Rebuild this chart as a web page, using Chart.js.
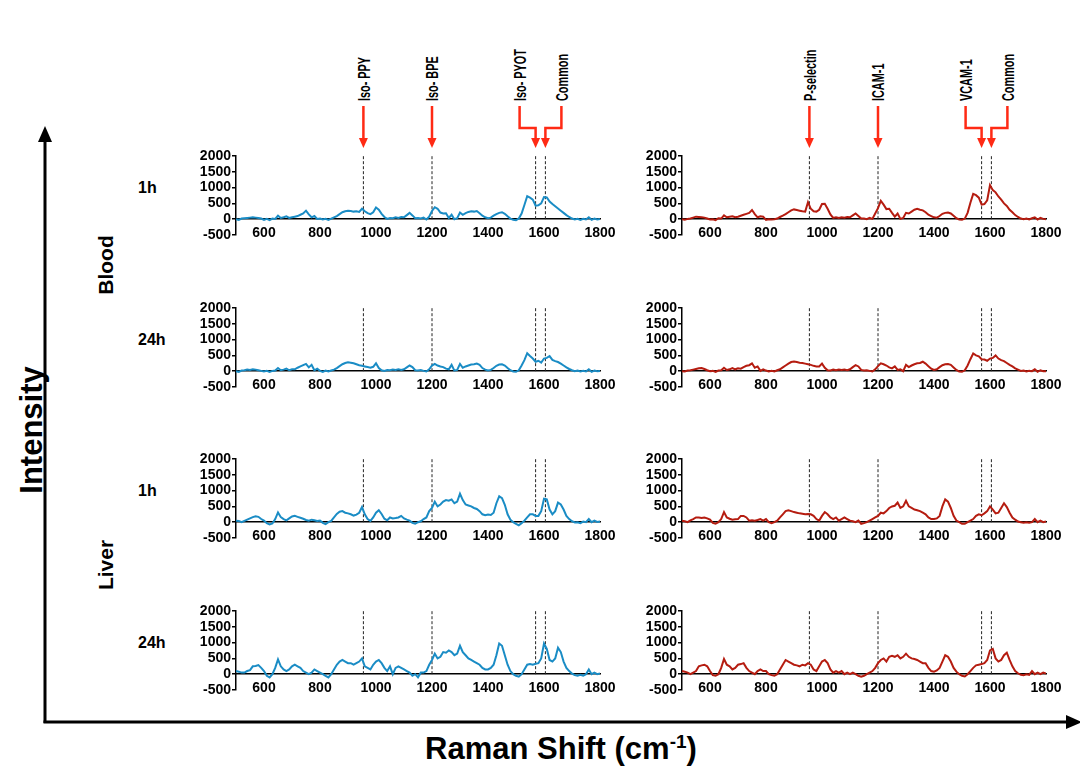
<!DOCTYPE html>
<html>
<head>
<meta charset="utf-8">
<script src="https://cdn.jsdelivr.net/npm/chart.js@4.4.1/dist/chart.umd.min.js"></script>
<style>
  body { margin: 0; background: #fff; width: 1080px; height: 769px; overflow: hidden; position: relative;
         font-family: Arial, "Liberation Sans", Helvetica, sans-serif; }
  canvas { position: absolute; }
  #overlay { position: absolute; left: 0; top: 0; }
  #xTitle { position: absolute; left: 161px; top: 733px; width: 800px; text-align: center;
            font-size: 31px; line-height: 31px; font-weight: bold; color: #000; }
  #xTitle sup { font-size: 19px; vertical-align: 11px; line-height: 0; }
</style>
</head>
<body>
<svg id="overlay" width="1080" height="769" xmlns="http://www.w3.org/2000/svg"></svg>
<div id="xTitle">Raman Shift (cm<sup>-1</sup>)</div>
<script>
/**raman shift of every sample (cm-1) */
const ramanShift = [
    500, 510, 520, 530, 540, 550, 560, 570, 580, 590,
    600, 610, 620, 630, 640, 650, 660, 670, 680, 690,
    700, 710, 720, 730, 740, 750, 760, 770, 780, 790,
    800, 810, 820, 830, 840, 850, 860, 870, 880, 890,
    900, 910, 920, 930, 940, 950, 960, 970, 980, 990,
    1000, 1010, 1020, 1030, 1040, 1050, 1060, 1070, 1080, 1090,
    1100, 1110, 1120, 1130, 1140, 1150, 1160, 1170, 1180, 1190,
    1200, 1210, 1220, 1230, 1240, 1250, 1260, 1270, 1280, 1290,
    1300, 1310, 1320, 1330, 1340, 1350, 1360, 1370, 1380, 1390,
    1400, 1410, 1420, 1430, 1440, 1450, 1460, 1470, 1480, 1490,
    1500, 1510, 1520, 1530, 1540, 1550, 1560, 1570, 1580, 1590,
    1600, 1610, 1620, 1630, 1640, 1650, 1660, 1670, 1680, 1690,
    1700, 1710, 1720, 1730, 1740, 1750, 1760, 1770, 1780, 1790,
    1800,
];
/**blood, 1h, iso tags (blue) */
const isoBlood1h = [
    0, -20, 20, 30, 40, 50, 60, 50, 40, 20,
    -20, 10, -30, 20, 10, 110, 40, 60, 90, 40,
    60, 80, 100, 140, 180, 270, 150, 60, 100, 10,
    20, -10, 10, -20, 20, 60, 100, 160, 220, 250,
    270, 260, 240, 250, 230, 330, 250, 190, 160, 220,
    370, 300, 170, 70, 10, 40, 30, 60, 40, 70,
    60, 130, 200, 120, 30, 40, 20, 50, -10, 80,
    260, 380, 330, 210, 180, 190, 40, 140, 0, 30,
    210, 140, 190, 230, 250, 240, 260, 190, 110, 60,
    30, 50, 110, 160, 200, 220, 170, 90, 20, -20,
    -30, 20, 180, 450, 730, 680, 620, 430, 440, 500,
    700, 690, 560, 480, 410, 340, 270, 200, 130, 70,
    20, -10, 10, -20, 10, -10, 60, -20, 20, -10,
    10,
];
/**blood, 1h, antibody tags (red) */
const abBlood1h = [
    0, -20, 10, 20, 50, 80, 70, 60, 50, 20,
    -10, 0, -30, 30, 20, 120, 60, 80, 90, 60,
    80, 110, 140, 170, 200, 290, 160, 60, 90, 80,
    -20, 0, -10, 0, 20, 70, 110, 160, 220, 280,
    310, 290, 270, 250, 240, 540, 330, 250, 240, 300,
    480, 490, 330, 150, 40, 60, 40, 60, 50, 70,
    60, 120, 180, 100, 20, 20, 0, 40, 10, 180,
    350, 580, 460, 320, 330, 200, 80, 180, 10, 40,
    200, 180, 240, 300, 330, 300, 280, 220, 140, 100,
    60, 50, 100, 170, 200, 210, 180, 110, 30, -10,
    -20, 20, 200, 520, 800, 760, 680, 460, 480, 600,
    1080, 920, 850, 720, 620, 500, 420, 300, 220, 130,
    70, 20, 0, 20, -10, 30, 60, -10, 40, 10,
    0,
];
/**blood, 24h, iso tags (blue) */
const isoBlood24h = [
    0, -20, 20, 30, 50, 40, 60, 50, 30, 10,
    -10, 10, -20, 10, 20, 100, 30, 50, 80, 30,
    60, 60, 110, 150, 190, 230, 120, 200, 30, 80,
    10, -20, 20, -10, 20, 50, 100, 160, 220, 260,
    280, 270, 250, 220, 190, 170, 150, 130, 110, 140,
    250, 100, 30, 10, 40, 30, 50, 40, 60, 40,
    60, 120, 180, 130, 30, 20, 40, 10, -10, 60,
    180, 230, 180, 150, 130, 80, 60, 200, 20, 40,
    230, 110, 150, 180, 210, 220, 240, 200, 100, 50,
    20, 40, 100, 170, 210, 220, 180, 100, 30, -10,
    -20, 30, 180, 350, 570, 480, 400, 300, 330, 270,
    400, 420, 480, 360, 320, 290, 240, 180, 120, 70,
    30, 0, 20, -10, 10, -10, 60, -20, 20, 0,
    10,
];
/**blood, 24h, antibody tags (red) */
const abBlood24h = [
    0, -10, 20, 30, 50, 70, 90, 100, 70, 30,
    0, 10, -20, 20, 30, 110, 40, 60, 100, 60,
    90, 80, 130, 170, 190, 250, 110, 150, 10, 60,
    20, -10, 10, -10, 30, 60, 120, 180, 240, 290,
    310, 290, 270, 260, 240, 220, 200, 170, 150, 150,
    240, 110, 30, 20, 50, 30, 50, 40, 50, 30,
    60, 130, 190, 150, 40, 20, 30, 10, -10, 60,
    160, 250, 220, 180, 120, 90, 150, 40, 60, 0,
    200, 130, 180, 220, 250, 260, 300, 240, 160, 80,
    40, 60, 130, 190, 220, 230, 200, 120, 40, -10,
    -20, 30, 180, 380, 560, 500, 470, 380, 370, 330,
    400, 420, 500, 400, 350, 320, 260, 200, 150, 90,
    50, 10, 20, -10, 10, 0, 60, -20, 30, 0,
    0,
];
/**liver, 1h, iso tags (blue) */
const isoLiver1h = [
    50, 40, 0, 40, 80, 120, 160, 190, 170, 100,
    50, -30, -70, -40, 100, 310, 160, 100, 60, 120,
    180, 200, 170, 140, 110, 70, 50, 80, 60, 40,
    50, -20, -60, 0, 40, 150, 260, 330, 350, 300,
    280, 250, 210, 240, 300, 480, 250, 100, 40, 150,
    300, 380, 260, 110, 60, 150, 120, 130, 150, 200,
    120, 80, 50, -20, -50, 0, 30, 100, 150, 350,
    450, 650, 500, 560, 650, 700, 680, 720, 600, 650,
    900, 700, 560, 530, 500, 450, 420, 350, 250, 220,
    240, 230, 300, 600, 820, 760, 550, 250, 80, 0,
    -50, -100, -30, 50, 150, 250, 250, 200, 200, 350,
    740, 720, 400, 250, 350, 620, 560, 400, 200, 100,
    30, -10, 0, -30, 20, 0, 100, 0, 50, 10,
    20,
];
/**liver, 1h, antibody tags (red) */
const abLiver1h = [
    50, 30, 0, 60, 100, 150, 150, 130, 150, 120,
    80, -20, -50, 0, 100, 320, 150, 110, 80, 90,
    100, 200, 200, 150, 50, 60, 50, 70, 100, 50,
    100, 0, -30, 0, 50, 150, 250, 350, 380, 350,
    320, 300, 280, 270, 250, 260, 250, 200, 100, 50,
    200, 320, 250, 150, 100, 150, 50, 100, 150, 100,
    50, 30, 0, 50, -50, -30, 0, 50, 100, 150,
    200, 300, 280, 350, 450, 500, 520, 620, 450, 500,
    680, 500, 450, 400, 380, 350, 300, 250, 150, 100,
    100, 120, 200, 500, 720, 650, 450, 200, 50, 0,
    -50, -50, 0, 50, 100, 200, 250, 220, 280, 350,
    500, 400, 280, 300, 450, 600, 480, 300, 150, 80,
    20, 0, -20, 0, -20, 0, 100, 0, 50, 0,
    20,
];
/**liver, 24h, iso tags (blue) */
const isoLiver24h = [
    100, 80, 50, 50, 100, 130, 250, 260, 290, 200,
    100, -50, -100, 0, 200, 470, 250, 150, 100, 150,
    250, 300, 250, 200, 100, 50, 0, 50, 150, 100,
    50, 0, -50, -100, 0, 150, 300, 400, 450, 400,
    350, 350, 300, 350, 400, 500, 250, 200, 150, 300,
    400, 450, 350, 200, 100, 250, 0, 200, 250, 200,
    150, 100, 50, -50, 0, -100, 50, 50, 100, 300,
    450, 650, 500, 550, 700, 680, 750, 700, 600, 650,
    900, 700, 600, 500, 450, 400, 350, 300, 200, 150,
    150, 200, 300, 600, 970, 900, 600, 300, 100, 0,
    -50, -80, 0, 150, 300, 320, 300, 330, 350, 500,
    970, 800, 450, 400, 500, 840, 700, 400, 200, 100,
    20, -30, -50, -20, -50, 0, 150, 0, 50, 0,
    20,
];
/**liver, 24h, antibody tags (red) */
const abLiver24h = [
    100, 80, 50, 0, 50, 100, 250, 280, 300, 250,
    100, -30, -50, 0, 200, 480, 300, 250, 150, 200,
    300, 320, 350, 200, 100, 50, 0, 100, 150, 100,
    100, 0, -30, -50, 0, 150, 300, 450, 400, 350,
    300, 280, 250, 300, 280, 350, 300, 150, 100, 250,
    400, 450, 350, 150, 50, 100, 50, 100, 0, 50,
    0, 50, 0, -50, -80, -50, 0, 50, 100, 200,
    350, 450, 500, 400, 550, 580, 550, 600, 500, 550,
    650, 550, 500, 480, 450, 400, 350, 350, 200, 100,
    80, 120, 200, 400, 600, 550, 400, 200, 80, 0,
    -50, -70, 0, 100, 200, 280, 300, 320, 350, 450,
    750, 800, 500, 400, 450, 600, 680, 450, 250, 100,
    30, -20, -30, 0, -20, 100, 0, 50, 0, 50,
    20,
];
/**axis ticks */
const xTicks = [600, 800, 1000, 1200, 1400, 1600, 1800];
const yTicks = [-500, 0, 500, 1000, 1500, 2000];
/**where the dashed marker lines stand (cm-1) */
const markerShift = [955, 1200, 1570, 1605];
const isoLabels = ["Iso- PPY", "Iso- BPE", "Iso- PYOT", "Common"];
const antibodyLabels = ["P-selectin", "ICAM-1", "VCAM-1", "Common"];
const tissueLabels = ["Blood", "Liver"];
const timeLabels = ["1h", "24h", "1h", "24h"];

const BLUE = "#1a8cc5";
const RED = "#b51c10";
const ARROW_RED = "#ff2a14";
const FONT = 'Arial, "Liberation Sans", Helvetica, sans-serif';
/**layout of the panels */
const COL_AXIS_X = [236, 682];
const ROW_TOP = [156, 308, 459, 611];
const PLOT_W = 364;
const PLOT_H = 79;
const Y_AXIS_W = 46;
const PAD_T = 10;
const PAD_B = 10;
const PAD_R = 30;

Chart.defaults.font.family = FONT;
Chart.defaults.color = "#000";

/**
 * draw one small spectrum panel
 * @param {Array} values intensity of the spectrum
 * @param {string} color line colour
 * @param {int} col column index
 * @param {int} row row index
 * @returns {Chart} the chart
 */
function makePanel(values, color, col, row) {
    const canvas = document.createElement("canvas");
    canvas.width = Y_AXIS_W + PLOT_W + PAD_R;
    canvas.height = PAD_T + PLOT_H + PAD_B;
    canvas.style.left = COL_AXIS_X[col] - Y_AXIS_W + "px";
    canvas.style.top = ROW_TOP[row] - PAD_T + "px";
    document.body.appendChild(canvas);

    const datasets = [
        {
            data: values.map((v, i) => ({ x: ramanShift[i], y: v })),
            borderColor: color,
            borderWidth: 2,
            pointRadius: 0,
            order: 0,
        },
    ];
    markerShift.forEach((m) => {
        datasets.push({
            data: [{ x: m, y: 0 }, { x: m, y: 2000 }],
            borderColor: "#222",
            borderWidth: 1,
            borderDash: [3, 2],
            pointRadius: 0,
            order: 1,
        });
    });

    return new Chart(canvas, {
        type: "line",
        data: { datasets },
        options: {
            animation: false,
            responsive: false,
            events: [],
            layout: { padding: { top: PAD_T, bottom: PAD_B, left: 0, right: PAD_R } },
            plugins: { legend: { display: false }, tooltip: { enabled: false } },
            scales: {
                x: {
                    type: "linear",
                    min: 500,
                    max: 1800,
                    position: { y: 0 },
                    afterBuildTicks: (s) => { s.ticks = xTicks.map((v) => ({ value: v })); },
                    grid: { display: false, drawTicks: false },
                    border: { display: true, color: "#000", width: 1.5 },
                    ticks: {
                        font: { size: 14, weight: "bold" },
                        color: "#000",
                        padding: 6,
                        maxRotation: 0,
                        autoSkip: false,
                        callback: (v) => String(v),
                    },
                },
                y: {
                    min: -500,
                    max: 2000,
                    afterBuildTicks: (s) => { s.ticks = yTicks.map((v) => ({ value: v })); },
                    afterFit: (s) => { s.width = Y_AXIS_W; },
                    grid: { display: true, drawOnChartArea: false, drawTicks: true, tickLength: 4, color: "#000", lineWidth: 1.5 },
                    border: { display: true, color: "#000", width: 1.5 },
                    ticks: {
                        font: { size: 14, weight: "bold" },
                        color: "#000",
                        padding: 1,
                        autoSkip: false,
                        callback: (v) => String(v),
                    },
                },
            },
        },
    });
}

const panelValues = [
    [isoBlood1h, abBlood1h],
    [isoBlood24h, abBlood24h],
    [isoLiver1h, abLiver1h],
    [isoLiver24h, abLiver24h],
];
const charts = panelValues.map((pair, row) =>
    pair.map((values, col) => makePanel(values, col === 0 ? BLUE : RED, col, row))
);

/* ---- the labels, arrows and big axes around the panels ---- */
const svg = document.getElementById("overlay");
const NS = "http://www.w3.org/2000/svg";
function svgEl(tag, attrs, text) {
    const el = document.createElementNS(NS, tag);
    Object.keys(attrs).forEach((k) => el.setAttribute(k, attrs[k]));
    if (text !== undefined) el.textContent = text;
    svg.appendChild(el);
    return el;
}
function arrowHead(x, tipY, color) {
    svgEl("polygon", { points: `${x - 4.5},${tipY - 10} ${x + 4.5},${tipY - 10} ${x},${tipY}`, fill: color });
}

const ARROW_TOP = 106;
const ARROW_TIP = 148;
const BRACKET_Y = 128;
const LABEL_BOTTOM = 101;
charts[0].forEach((chart, col) => {
    const offsetX = COL_AXIS_X[col] - Y_AXIS_W;
    const labels = col === 0 ? isoLabels : antibodyLabels;
    markerShift.forEach((m, i) => {
        const x = offsetX + chart.scales.x.getPixelForValue(m);
        let labelX = x;
        if (i === 2) labelX = x - 16;
        if (i === 3) labelX = x + 16;
        if (labelX === x) {
            svgEl("line", { x1: x, y1: ARROW_TOP, x2: x, y2: ARROW_TIP - 8, stroke: ARROW_RED, "stroke-width": 2.5 });
        } else {
            svgEl("path", {
                d: `M${labelX},${ARROW_TOP} V${BRACKET_Y} H${x} V${ARROW_TIP - 8}`,
                fill: "none",
                stroke: ARROW_RED,
                "stroke-width": 2.5,
                "stroke-linejoin": "miter",
            });
        }
        arrowHead(x, ARROW_TIP, ARROW_RED);
        svgEl("text", {
            transform: `translate(${labelX + 1},${LABEL_BOTTOM}) rotate(-90) scale(0.68,1)`,
            "font-family": FONT,
            "font-size": 16,
            "font-weight": "bold",
            "dominant-baseline": "central",
        }, labels[i]);
    });
});

/* row labels */
timeLabels.forEach((t, row) => {
    svgEl("text", {
        x: 138, y: ROW_TOP[row] + 31,
        "font-family": FONT, "font-size": 16, "font-weight": "bold", "dominant-baseline": "central",
    }, t);
});
[265, 565].forEach((cy, i) => {
    svgEl("text", {
        transform: `translate(105,${cy}) rotate(-90)`,
        "font-family": FONT, "font-size": 21, "font-weight": "bold",
        "text-anchor": "middle", "dominant-baseline": "central",
    }, tissueLabels[i]);
});

/* big axes */
svgEl("line", { x1: 45, y1: 723, x2: 45, y2: 140, stroke: "#000", "stroke-width": 3 });
svgEl("polygon", { points: "38,142 52,142 45,126", fill: "#000" });
svgEl("line", { x1: 43.5, y1: 722, x2: 1068, y2: 722, stroke: "#000", "stroke-width": 3 });
svgEl("polygon", { points: "1066,715 1066,729 1082,722", fill: "#000" });
svgEl("text", {
    transform: "translate(31,430) rotate(-90)",
    "font-family": FONT, "font-size": 31, "font-weight": "bold",
    "text-anchor": "middle", "dominant-baseline": "central",
}, "Intensity");
</script>
</body>
</html>
